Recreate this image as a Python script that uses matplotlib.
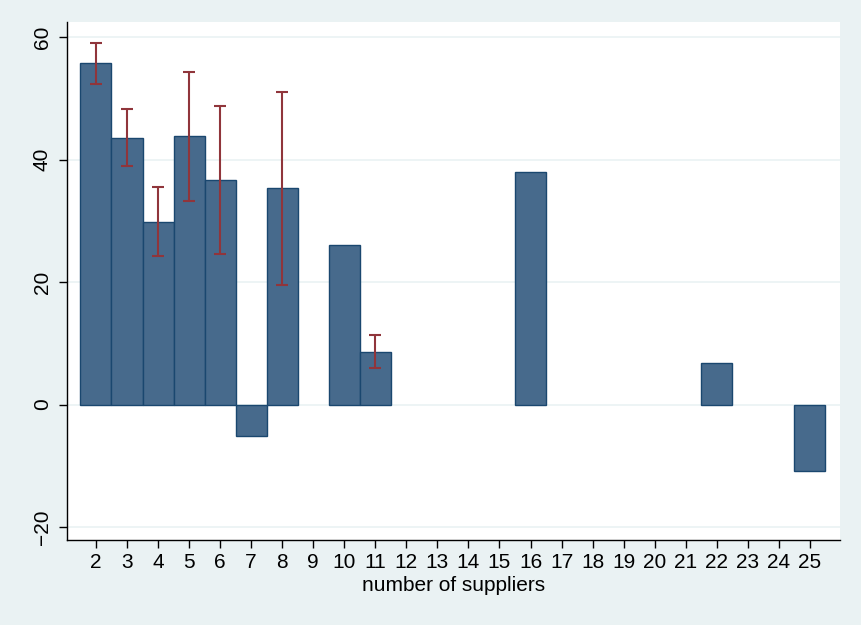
import numpy as np
import matplotlib.pyplot as plt

plt.rcParams['font.family'] = ['Liberation Sans', 'DejaVu Sans']

# bars by number of suppliers
suppliers = [2, 3, 4, 5, 6, 7, 8, 10, 11, 16, 22, 25]
values = [55.8, 43.5, 29.8, 43.9, 36.7, -5.2, 35.4, 26.1, 8.6, 38.0, 6.8, -10.9]

# confidence intervals (only where shown)
ci_x = [2, 3, 4, 5, 6, 8, 11]
ci_hi = [59.0, 48.3, 35.5, 54.3, 48.8, 51.0, 11.3]
ci_lo = [52.3, 39.0, 24.3, 33.3, 24.6, 19.6, 5.9]

xticks = list(range(2, 26))
yticks = [-20, 0, 20, 40, 60]

bg = '#EAF2F3'
bar_col = '#476A8C'
edge_col = '#1A476F'
err_col = '#90353B'

fig = plt.figure(figsize=(8.61, 6.25), dpi=100, facecolor=bg)
ax = fig.add_axes([0.0778, 0.136, 0.8978, 0.8288])
ax.set_facecolor('white')

ax.bar(suppliers, values, width=1.0, color=bar_col, edgecolor=edge_col,
       linewidth=1.0, zorder=2)

mid = [(h + l) / 2 for h, l in zip(ci_hi, ci_lo)]
half = [(h - l) / 2 for h, l in zip(ci_hi, ci_lo)]
ax.errorbar(ci_x, mid, yerr=half, fmt='none', ecolor=err_col,
            elinewidth=1.5, capsize=4, capthick=1.5, zorder=3)

ax.set_xlim(1.066, 25.97)
ax.set_ylim(-22.1, 62.45)
ax.set_xticks(xticks)
ax.set_yticks(yticks)
ax.set_yticklabels([str(t).replace('-', '\u2212') for t in yticks],
                   rotation=90, va='center')
ax.tick_params(axis='both', labelsize=15, length=6, width=1, colors='black')
ax.tick_params(axis='y', pad=5)
ax.grid(axis='y', color=bg, linewidth=1.2, zorder=0)
ax.set_axisbelow(True)

for s in ['top', 'right']:
    ax.spines[s].set_visible(False)
for s in ['left', 'bottom']:
    ax.spines[s].set_linewidth(1.0)
    ax.spines[s].set_color('black')

ax.set_xlabel('number of suppliers', fontsize=15, labelpad=3)

fig.savefig('out.png', dpi=100, facecolor=bg)
